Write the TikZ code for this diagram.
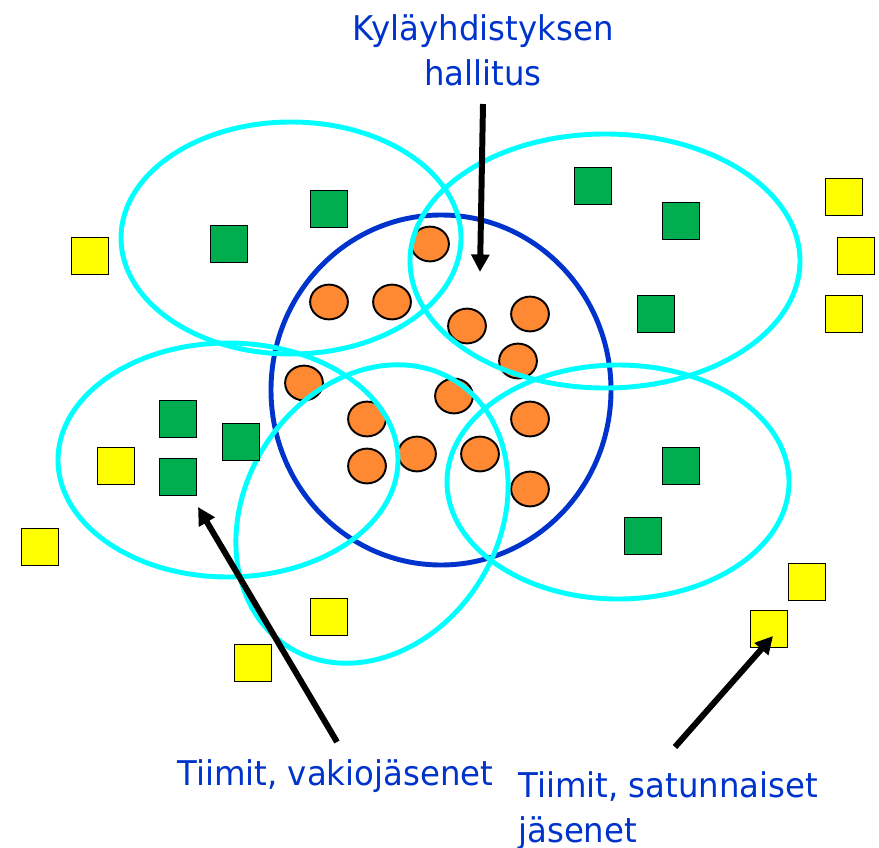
\documentclass[tikz,border=0pt]{standalone}
\usepackage{fontspec}
\setmainfont{DejaVu Sans}[FakeStretch=0.95]
\usetikzlibrary{shapes.geometric}
\usetikzlibrary{arrows.meta}

\definecolor{boardblue}{RGB}{0,51,204}
\definecolor{teamcyan}{RGB}{0,255,255}
\definecolor{membergreen}{RGB}{0,173,79}
\definecolor{boardorange}{RGB}{255,136,51}
\definecolor{guestyellow}{RGB}{255,255,0}

\begin{document}
\begin{tikzpicture}[x=0.02cm, y=0.02cm]

\tikzstyle{every node}=[font=\fontsize{19.4}{25.5}\selectfont]
\tikzstyle{infotext}=[text=boardblue, inner sep=0pt]
\tikzstyle{team}=[teamcyan, line width=2.8pt]
\tikzstyle{board member}=[ellipse, draw, line width=1.1pt, fill=boardorange,
	minimum width=21.5pt, minimum height=19.8pt, inner sep=0pt]
\tikzstyle{steady member}=[rectangle, draw, line width=1pt, fill=membergreen,
	minimum size=21pt, inner sep=0pt]
\tikzstyle{casual member}=[rectangle, draw, line width=1pt, fill=guestyellow,
	minimum size=21pt, inner sep=0pt]
\tikzstyle{pointer}=[line width=3.4pt, -{Triangle[length=10pt, width=10pt]}]

\useasboundingbox (0,0) rectangle (879,-848);

% hallitus
\draw[boardblue, line width=2.8pt] (441,-390) ellipse (170 and 175);

\node[board member] (o1) at (430,-244) {};
\node[board member] (o2) at (329,-302) {};
\node[board member] (o3) at (392,-302) {};
\node[board member] (o4) at (467,-326) {};
\node[board member] (o5) at (530,-314) {};
\node[board member] (o6) at (518,-361) {};
\node[board member] (o7) at (304,-383) {};
\node[board member] (o8) at (454,-396) {};
\node[board member] (o9) at (367,-419) {};
\node[board member] (o10) at (530,-419) {};
\node[board member] (o11) at (367,-466) {};
\node[board member] (o12) at (417,-454) {};
\node[board member] (o13) at (480,-454) {};
\node[board member] (o14) at (530,-489) {};

% tiimit
\draw[team] (291,-238) ellipse (170 and 116);
\draw[team] (605,-261) ellipse (195 and 127);
\draw[team] (228,-460) ellipse (170 and 117);
\draw[team] (618,-482) ellipse (171 and 117);
\draw[team, rotate around={58:(372,-514)}] (372,-514) ellipse (157 and 127);

\node[steady member] (g1) at (329,-209) {};
\node[steady member] (g2) at (229,-244) {};
\node[steady member] (g3) at (593,-186) {};
\node[steady member] (g4) at (681,-221) {};
\node[steady member] (g5) at (656,-314) {};
\node[steady member] (g6) at (178,-419) {};
\node[steady member] (g7) at (241,-442) {};
\node[steady member] (g8) at (178,-477) {};
\node[steady member] (g9) at (681,-466) {};
\node[steady member] (g10) at (643,-536) {};

\node[casual member] (y1) at (90,-256) {};
\node[casual member] (y2) at (844,-197) {};
\node[casual member] (y3) at (856,-256) {};
\node[casual member] (y4) at (844,-314) {};
\node[casual member] (y5) at (116,-466) {};
\node[casual member] (y6) at (40,-547) {};
\node[casual member] (y7) at (329,-617) {};
\node[casual member] (y8) at (253,-663) {};
\node[casual member] (y9) at (807,-582) {};
\node[casual member] (y10) at (769,-629) {};

% tekstit ja nuolet
\node[infotext, align=center, anchor=north] (board) at (483,-14)
	{Kyläyhdistyksen\\hallitus};
\node[infotext, anchor=base west] (steady) at (177,-785)
	{Tiimit, vakiojäsenet};
\node[infotext, align=left, anchor=north west] (casual) at (518,-771)
	{Tiimit, satunnaiset\\jäsenet};

\coordinate (board tail) at (483,-104);
\coordinate (board tip) at (480,-272);
\coordinate (steady tail) at (337,-742);
\coordinate (steady tip) at (198,-507);
\coordinate (casual tail) at (675,-747);
\coordinate (casual tip) at (773,-636);

\draw[pointer] (board tail) -- (board tip);
\draw[pointer] (steady tail) -- (steady tip);
\draw[pointer] (casual tail) -- (casual tip);
\end{tikzpicture}
\end{document}
